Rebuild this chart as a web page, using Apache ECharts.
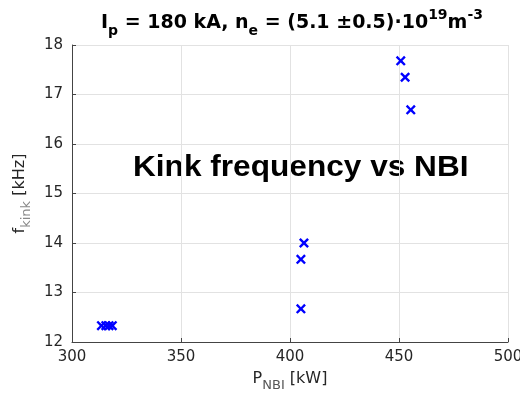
<!DOCTYPE html>
<html><head><meta charset="utf-8">
<script src="https://cdn.jsdelivr.net/npm/echarts@6/dist/echarts.min.js"></script>
<style>html,body{margin:0;padding:0;background:#fff}#c{width:520px;height:399px}</style>
</head><body><div id="c"></div>
<script>
var pNBI = [313.5, 315.5, 317, 318.5, 405, 405, 406.4, 450.8, 452.8, 455.4];
var fKink = [12.33, 12.33, 12.33, 12.33, 12.67, 13.67, 14.0, 17.68, 17.35, 16.69];
var xTicks = [300, 350, 400, 450, 500];
var yTicks = [12, 13, 14, 15, 16, 17, 18];

var chart = echarts.init(document.getElementById('c'));
var xMark = 'path://M0,17L17,0L50,33L83,0L100,17L67,50L100,83L83,100L50,67L17,100L0,83L33,50Z';
var tickFont = {fontFamily:'DejaVu Sans', fontSize:15, color:'#262626'};
chart.setOption({
  animation:false,
  backgroundColor:'#fff',
  title:{
    text:'{b|I}{s|p}{b| = 180 kA, n}{s|e}{b| = (5.1 \u00b10.5)\u00b710}{u|19}{b|m}{u|-3}',
    left:287, top:3, textAlign:'center',
    textStyle:{
      rich:{
        b:{fontFamily:'DejaVu Sans', fontWeight:'bold', fontSize:19, color:'#000', lineHeight:30, verticalAlign:'middle'},
        s:{fontFamily:'DejaVu Sans', fontWeight:'bold', fontSize:14, color:'#000', lineHeight:12, verticalAlign:'bottom'},
        u:{fontFamily:'DejaVu Sans', fontWeight:'bold', fontSize:14, color:'#000', lineHeight:12, verticalAlign:'top'}
      }
    }
  },
  graphic:[{
    type:'text', x:133, y:153, scaleX:1.09,
    style:{text:'Kink frequency vs NBI', font:'bold 29px "Liberation Sans", Arial, sans-serif', fill:'#000', textVerticalAlign:'top'}
  }],
  grid:{left:72, right:12, top:45, bottom:57, outerBoundsMode:'none', containLabel:false},
  xAxis:{
    type:'value', min:300, max:500, interval:50,
    name:'{m|P}{s|NBI}{m| [kW]}', nameLocation:'middle', nameGap:24,
    nameTextStyle:{rich:{
      m:{fontFamily:'DejaVu Sans', fontSize:16, color:'#262626', lineHeight:26, verticalAlign:'middle'},
      s:{fontFamily:'DejaVu Sans', fontSize:13, color:'#555', lineHeight:10, verticalAlign:'bottom'}
    }},
    axisLine:{show:true, lineStyle:{color:'#444', width:1}},
    axisTick:{show:true, inside:true, length:4, lineStyle:{color:'#444'}},
    axisLabel:Object.assign({margin:8, formatter:function(v){return xTicks.indexOf(v)>=0?String(v):'';}}, tickFont),
    splitLine:{show:true, lineStyle:{color:'#e2e2e2', width:1}}
  },
  yAxis:{
    type:'value', min:12, max:18, interval:1,
    name:'{m|f}{s|kink}{m| [kHz]}', nameLocation:'middle', nameGap:32, nameRotate:90,
    nameTextStyle:{rich:{
      m:{fontFamily:'DejaVu Sans', fontSize:16, color:'#262626', lineHeight:26, verticalAlign:'middle'},
      s:{fontFamily:'DejaVu Sans', fontSize:13, color:'#888', lineHeight:10, verticalAlign:'bottom'}
    }},
    axisLine:{show:true, lineStyle:{color:'#444', width:1}},
    axisTick:{show:true, inside:true, length:4, lineStyle:{color:'#444'}},
    axisLabel:Object.assign({margin:9, formatter:function(v){return yTicks.indexOf(v)>=0?String(v):'';}}, tickFont),
    splitLine:{show:true, lineStyle:{color:'#e2e2e2', width:1}}
  },
  series:[{
    type:'scatter',
    data:pNBI.map(function(x,i){return [x,fKink[i]];}),
    symbol:xMark, symbolSize:10,
    itemStyle:{color:'#0000ff', opacity:1}
  }]
});
</script></body></html>
